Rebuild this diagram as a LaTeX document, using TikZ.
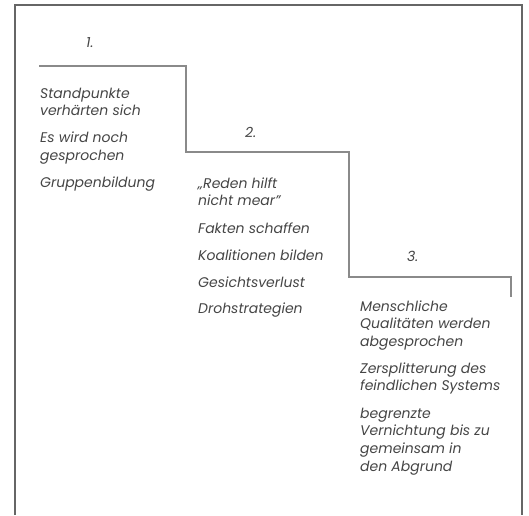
\documentclass[tikz,border=0pt]{standalone}
\usepackage{fontspec}
\setmainfont{Poppins}
\definecolor{txt}{HTML}{454545}
\definecolor{framecol}{HTML}{666666}
\definecolor{stepcol}{HTML}{8A8A8A}
\begin{document}
\begin{tikzpicture}[x=1pt,y=-1pt,
  frameline/.style={draw=framecol,line width=2pt},
  stairline/.style={draw=stepcol,line width=1.3pt},
  item/.style={anchor=base west,inner sep=0pt,align=left,text=txt,
    font=\itshape\fontsize{14}{17.7}\selectfont},
  stagelabel/.style={item}]
\useasboundingbox (0,0) rectangle (529,515);
% outer frame, open at the bottom
\draw[frameline] (15,515) -- (15,5) -- (522,5) -- (522,515);
% escalation staircase
\draw[stairline] (39,66) -- (186,66) -- (186,152) -- (349,152)
  -- (349,277) -- (511,277) -- (511,297);
% stage numbers
\node[stagelabel] (s1) at (86,47) {1.};
\node[stagelabel] (s2) at (245,137) {2.};
\node[stagelabel] (s3) at (407,261) {3.};
% stage 1 (nodes are placed by the baseline of their last line)
\node[item] (a1) at (40,115.7) {Standpunkte\\verhärten sich};
\node[item] (a2) at (40,160.2) {Es wird noch\\gesprochen};
\node[item] (a3) at (40,187) {Gruppenbildung};
% stage 2
\node[item] (b1) at (198,205.7) {„Reden hilft\\nicht mear”};
\node[item] (b2) at (198,233) {Fakten schaffen};
\node[item] (b3) at (198,260) {Koalitionen bilden};
\node[item] (b4) at (198,287) {Gesichtsverlust};
\node[item] (b5) at (198,313) {Drohstrategien};
% stage 3
\node[item] (c1) at (360,346.4) {Menschliche\\Qualitäten werden\\abgesprochen};
\node[item] (c2) at (360,390.7) {Zersplitterung des\\feindlichen Systems};
\node[item] (c3) at (360,471.1) {begrenzte\\Vernichtung bis zu\\gemeinsam in\\den Abgrund};
\end{tikzpicture}
\end{document}
